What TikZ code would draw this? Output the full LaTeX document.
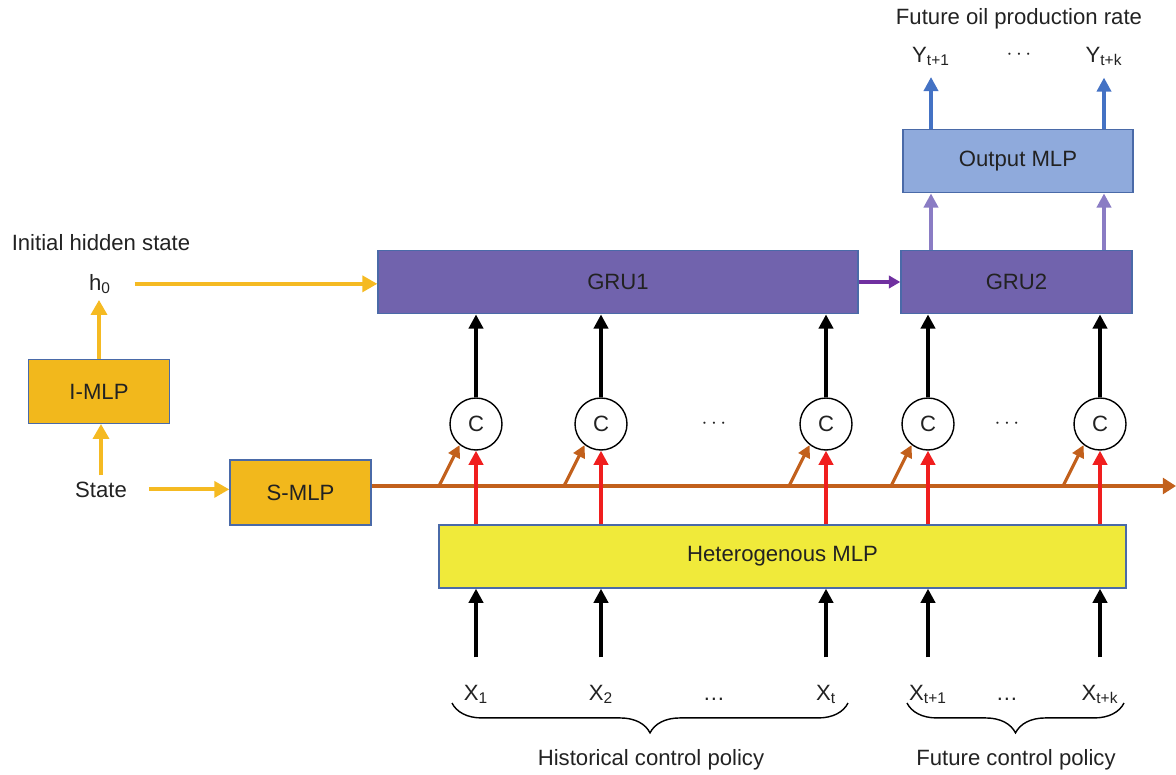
\documentclass[tikz,border=0pt]{standalone}
\usepackage{fontspec}
\setmainfont{Liberation Sans}
\usepackage{xcolor}
\usetikzlibrary{
	arrows.meta,
	calc,
	positioning,
	decorations.pathreplacing
}

\definecolor{mlpgold}{HTML}{F2B81C}
\definecolor{grupurple}{HTML}{7163AD}
\definecolor{outblue}{HTML}{8FAADC}
\definecolor{hetyellow}{HTML}{F0EA3A}
\definecolor{boxedge}{HTML}{4A6AA8}
\definecolor{statebrown}{HTML}{C2601C}
\definecolor{arrowgold}{HTML}{F5BA22}
\definecolor{linkpurple}{HTML}{7030A0}
\definecolor{liftpurple}{HTML}{8A7CC4}
\definecolor{yblue}{HTML}{4472C4}
\definecolor{cred}{HTML}{F01E1E}
\definecolor{inkgray}{HTML}{222222}

\tikzset{
	box/.style={draw=boxedge, line width=0.8pt, minimum height=1.27cm, inner sep=0pt, text=inkgray},
	cnode/.style={draw, circle, line width=0.8pt, minimum size=1.04cm, inner sep=0pt, text=inkgray},
	arr/.style={line width=2pt, -{Triangle[width=8pt,length=8pt]}},
	yarr/.style={arrowgold, line width=2.3pt, -{Triangle[width=9pt,length=8.5pt]}},
	sline/.style={statebrown, line width=2.6pt, -{Triangle[width=9pt,length=7.5pt]}},
	brc/.style={decorate, decoration={brace, mirror, amplitude=17pt}, line width=0.8pt}
}

\begin{document}
\begin{tikzpicture}[x=0.02cm,y=-0.02cm,font=\fontsize{12.6}{15}\selectfont,text=inkgray]
		\useasboundingbox (0,0) rectangle (1176,774);
		
		% boxes
		\node[box,fill=mlpgold,minimum width=2.82cm] (imlp) at (99,391.5) {I-MLP};
		\node[box,fill=mlpgold,minimum width=2.82cm,minimum height=1.3cm] (smlp) at (300.5,492.5) {S-MLP};
		\node[box,fill=grupurple,minimum width=9.6cm] (gruA) at (618,282) {GRU1};
		\node[box,fill=grupurple,minimum width=4.62cm] (gruB) at (1016.5,282) {GRU2};
		\node[box,fill=outblue,minimum width=4.6cm] (outmlp) at (1018,161) {Output MLP};
		\node[box,fill=hetyellow,minimum width=13.74cm,minimum height=1.26cm] (hetmlp) at (782.5,556.5) {Heterogenous MLP};
		
		% texts
		\node[anchor=base] (inith) at (101,250) {Initial hidden state};
		\node[anchor=base] (h0) at (100,290) {h\textsubscript{0}};
		\node[anchor=base] (state) at (101,497) {State};
		\node[anchor=base] (future) at (1019,25) {Future oil production rate};
		\node[anchor=base] (y1) at (931,62) {Y\textsubscript{t+1}};
		\node (ydots) at (1019,55) {$\cdots$};
		\node[anchor=base] (y2) at (1104,62) {Y\textsubscript{t+k}};
		
		% concat nodes and inputs
		\foreach \n/\xx/\s in {1/476/1,2/601/2,3/826/t,4/928/t+1,5/1100/t+k}{
			\node[cnode] (c\n) at (\xx,424) {C};
			\node[anchor=base] (x\n) at (\xx,700) {X\textsubscript{\s}};
		}
		\node (cdotsA) at (714,424) {$\cdots$};
		\node (cdotsB) at (1007,424) {$\cdots$};
		\node[anchor=base] (xdotsA) at (714,700) {\dots};
		\node[anchor=base] (xdotsB) at (1007,700) {\dots};
		
		% state path
		\draw[yarr] (state.north) -- (state.north |- imlp.south);
		\draw[yarr] (imlp.north) -- (imlp.north |- h0.south);
		\draw[yarr,shorten <=10pt] (h0.east) -- (h0.east -| gruA.west);
		\draw[yarr,shorten <=9pt] (state.east) -- (state.east -| smlp.west);
		\coordinate (send) at (1176,486);
		\draw[sline] (smlp.east |- send) -- (send);
		
		% columns
		\foreach \n in {1,...,5}{
			\draw[arr,statebrown,line width=1.8pt,-{Triangle[width=7pt,length=7pt]}] ($(c\n |- send)+(-37,0)$) -- (c\n.232);
			\draw[arr,cred] (c\n |- hetmlp.north) -- (c\n);
			\draw[arr,shorten <=12pt] (x\n.north) -- (x\n |- hetmlp.south);
		}
		\foreach \n in {1,2,3}
		\draw[arr] (c\n) -- (c\n |- gruA.south);
		\foreach \n in {4,5}
		\draw[arr] (c\n) -- (c\n |- gruB.south);
		
		% recurrent and output
		\draw[arr,linkpurple,line width=1.8pt,-{Triangle[width=7pt,length=6.5pt]}] (gruA.east) -- (gruB.west);
		\foreach \n in {1,2}{
			\draw[arr,liftpurple] (y\n |- gruB.north) -- (y\n |- outmlp.south);
			\draw[arr,yblue,line width=2.3pt,shorten >=3pt] (y\n |- outmlp.north) -- (y\n.south);
		}
		
		% braces
		\draw[brc] (452,703) -- (848,703);
		\draw[brc] (907,703) -- (1124,703);
		\node[anchor=base] (histlbl) at (651,765) {Historical control policy};
		\node[anchor=base] (futlbl) at (1016,765) {Future control policy};
	\end{tikzpicture}
\end{document}
